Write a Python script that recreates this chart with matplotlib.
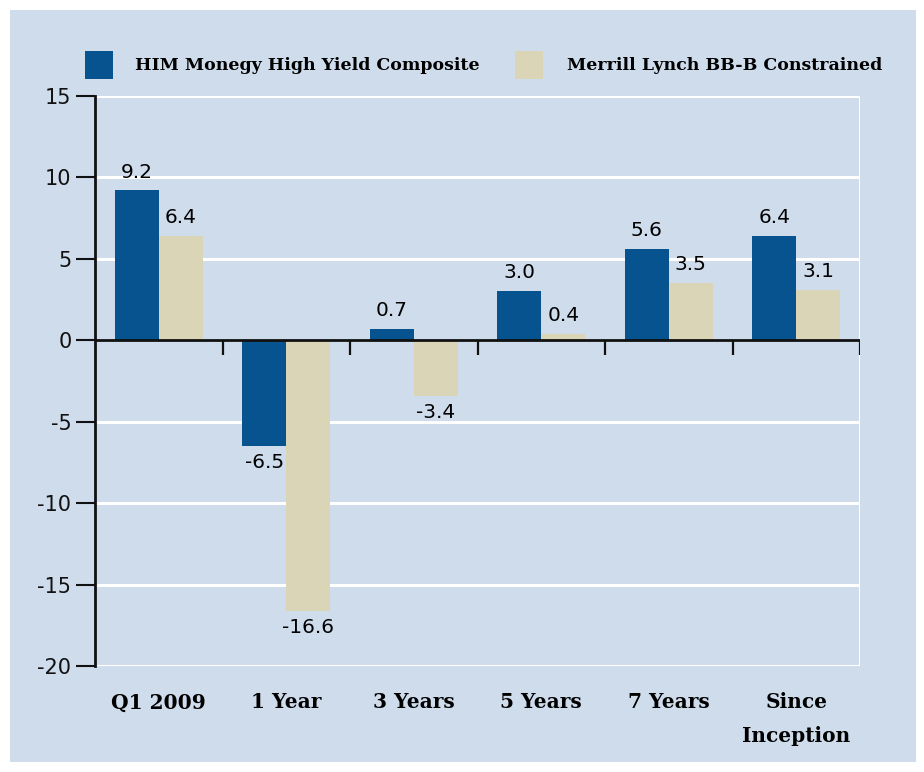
import matplotlib.pyplot as plt
from matplotlib.patches import Rectangle
import numpy as np

categories = ['Q1 2009', '1 Year', '3 Years', '5 Years', '7 Years', 'Since\nInception']
him = [9.2, -6.5, 0.7, 3.0, 5.6, 6.4]
merrill = [6.4, -16.6, -3.4, 0.4, 3.5, 3.1]
series_names = ['HIM Monegy High Yield Composite', 'Merrill Lynch BB-B Constrained']

blue = '#07538f'
beige = '#dbd5b7'
panel = '#cfdcec'
slab = dict(family='DejaVu Serif', weight='bold')
sans = dict(family='DejaVu Sans')

W, H = 924, 772
fig = plt.figure(figsize=(W / 100, H / 100), dpi=100)
fig.patch.set_facecolor('white')
fig.patches.append(Rectangle((10 / W, 10 / H), 906 / W, 752 / H,
                             transform=fig.transFigure, facecolor=panel,
                             edgecolor='none', zorder=-5))

ax = fig.add_axes([95 / W, 1 - 666 / H, 765 / W, 570 / H])
ax.set_facecolor(panel)

x = np.arange(len(categories))
w = 0.345
b1 = ax.bar(x - w / 2, him, w, color=blue, zorder=3)
b2 = ax.bar(x + w / 2, merrill, w, color=beige, zorder=3)

for bars, vals in ((b1, him), (b2, merrill)):
    for r, v in zip(bars, vals):
        cx = r.get_x() + r.get_width() / 2
        lab = f'{v:.1f}'
        if v >= 0:
            ax.text(cx, v + 0.55, lab, ha='center', va='bottom',
                    fontsize=14.5, color='black', **sans)
        else:
            ax.text(cx, v - 0.45, lab, ha='center', va='top',
                    fontsize=14.5, color='black', **sans)

ax.set_xlim(-0.5, len(categories) - 0.5)
ax.set_ylim(-20, 15)
yt = list(range(-20, 16, 5))
ax.set_yticks(yt)
ax.set_yticklabels([str(v) for v in yt], fontsize=15, **sans)
for yv in yt:
    if yv != 0:
        ax.axhline(yv, color='white', lw=2.2, zorder=1)
ax.axhline(0, color='#111111', lw=2, zorder=4)
ax.axvline(len(categories) - 0.5, color='white', lw=2.2, zorder=1)

# category boundary ticks on the zero line
bounds = list(x[1:] - 0.5) + [len(categories) - 0.5]
ax.vlines(bounds, -0.9, 0, color='#111111', lw=1.6, zorder=4)

for s in ['top', 'right', 'bottom']:
    ax.spines[s].set_visible(False)
ax.spines['left'].set_linewidth(2)
ax.spines['left'].set_color('#111111')
ax.tick_params(axis='y', length=14, width=1.5, pad=3, colors='#111111')
ax.set_xticks(x)
ax.set_xticklabels(categories, fontsize=14.5, linespacing=1.85, va='top', **slab)
ax.tick_params(axis='x', length=0, pad=19)

# legend drawn by hand to match the reference placement
leg = [(85, blue, 135, series_names[0]), (515, beige, 567, series_names[1])]
for sx, col, tx, name in leg:
    fig.patches.append(Rectangle((sx / W, 1 - 79 / H), 28 / W, 28 / H,
                                 transform=fig.transFigure, facecolor=col,
                                 edgecolor='none'))
    fig.text(tx / W, 1 - 66 / H, name, ha='left', va='center',
             fontsize=12.5, **slab)

fig.savefig('out.png', dpi=100, facecolor='white')
